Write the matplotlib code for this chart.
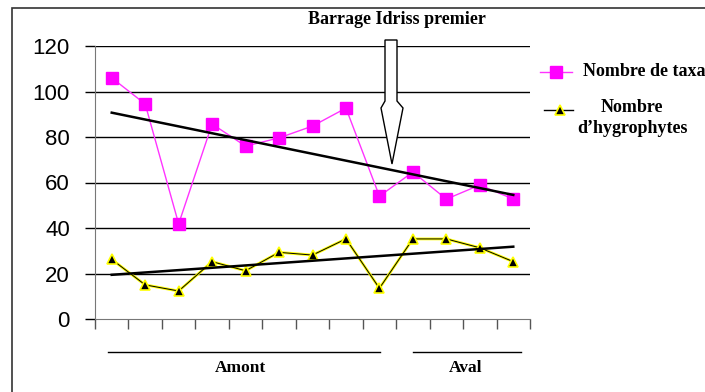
import numpy as np
import matplotlib.pyplot as plt
from matplotlib.lines import Line2D
from matplotlib.patches import Polygon, Rectangle

# data (13 stations, upstream -> downstream)
stations = np.arange(1, 14)
taxa = [106, 94.5, 41.8, 85.7, 76, 79.6, 84.8, 92.7, 54, 64.6, 52.7, 58.9, 52.7]
hygro = [26.2, 15, 12.3, 25.2, 21.2, 29.3, 28.1, 35.2, 13.5, 35.2, 35.2, 31.3, 25.2]
yticks = [0, 20, 40, 60, 80, 100, 120]
groups = ["Amont", "Aval"]

W, H = 705, 392
def fx(x):
    return x / W
def fy(y):
    return 1 - y / H

serif = "Liberation Serif"

fig = plt.figure(figsize=(W / 100, H / 100), dpi=100)
fig.patches.append(Rectangle((fx(12), fy(H + 10)), 1.0, fy(8) - fy(H + 10),
                             transform=fig.transFigure, fill=False,
                             edgecolor="#333333", lw=1.2))

ax = fig.add_axes([fx(95), fy(319), fx(530) - fx(95), fy(46) - fy(319)])
ax.set_xlim(0.5, 13.5)
ax.set_ylim(0, 120)

for v in yticks[1:]:
    ax.axhline(v, color="black", lw=1, zorder=1)

ax.plot(stations, taxa, color="#ff33ff", lw=1, marker="s", ms=8,
        mfc="#ff00ff", mec="#ff00ff", zorder=4)
ax.plot(stations, hygro, color="#ffff00", lw=2, zorder=3)
ax.plot(stations, hygro, color="black", lw=0.7, marker="^", ms=7,
        mfc="black", mec="#ffff00", mew=1.2, zorder=4)

# linear trend lines
for s in (taxa, hygro):
    k, b = np.polyfit(stations, s, 1)
    ax.plot([1, 13], [k * 1 + b, k * 13 + b], color="black", lw=1.8, zorder=5)

ax.set_yticks(yticks)
ax.set_yticklabels([str(v) for v in yticks], fontsize=16, family="Liberation Sans")
ax.tick_params(axis="y", direction="out", length=7, width=1, color="black", pad=11)
ax.set_xticks(np.arange(0.5, 14, 1))
ax.set_xticklabels([])
ax.tick_params(axis="x", direction="out", length=7, width=1, color="#555555")
for sp in ("top", "right"):
    ax.spines[sp].set_visible(False)
ax.spines["left"].set_color("#777777")
ax.spines["bottom"].set_color("#777777")

# group labels below the axis
for name, (x0, x1, xt) in zip(groups, [(108, 380, 240), (413, 521, 466)]):
    fig.add_artist(Line2D([fx(x0), fx(x1)], [fy(352), fy(352)], transform=fig.transFigure,
                          color="black", lw=1))
    fig.text(fx(xt), fy(368), name, ha="center", va="center",
             fontsize=12.5, fontweight="bold", family=serif)

# dam annotation with hollow arrow
fig.text(fx(397), fy(20), "Barrage Idriss premier", ha="center", va="center",
         fontsize=13, fontweight="bold", family=serif)
arrow = [(385, 40), (397, 40), (397, 101), (403, 108), (392, 164),
         (381, 108), (385, 101)]
fig.patches.append(Polygon([(fx(x), fy(y)) for x, y in arrow], closed=True,
                           transform=fig.transFigure, facecolor="white",
                           edgecolor="black", lw=1, zorder=6))

# legend drawn by hand
fig.add_artist(Line2D([fx(540), fx(572)], [fy(72), fy(72)], transform=fig.transFigure,
                      color="#ff33ff", lw=1))
fig.add_artist(Line2D([fx(556)], [fy(72)], transform=fig.transFigure,
                      marker="s", ms=8, mfc="#ff00ff", mec="#ff00ff", ls="none"))
fig.text(fx(583), fy(72), "Nombre de taxa", ha="left", va="center",
         fontsize=13, fontweight="bold", family=serif)
fig.add_artist(Line2D([fx(544), fx(573)], [fy(110), fy(110)], transform=fig.transFigure,
                      color="black", lw=1))
fig.add_artist(Line2D([fx(560)], [fy(110)], transform=fig.transFigure,
                      marker="^", ms=7, mfc="black", mec="#ffff00", mew=1.2, ls="none"))
fig.text(fx(632), fy(118), "Nombre\nd\u2019hygrophytes", ha="center", va="center",
         fontsize=13, fontweight="bold", family=serif, linespacing=1.3)

fig.savefig("out.png", dpi=100)
